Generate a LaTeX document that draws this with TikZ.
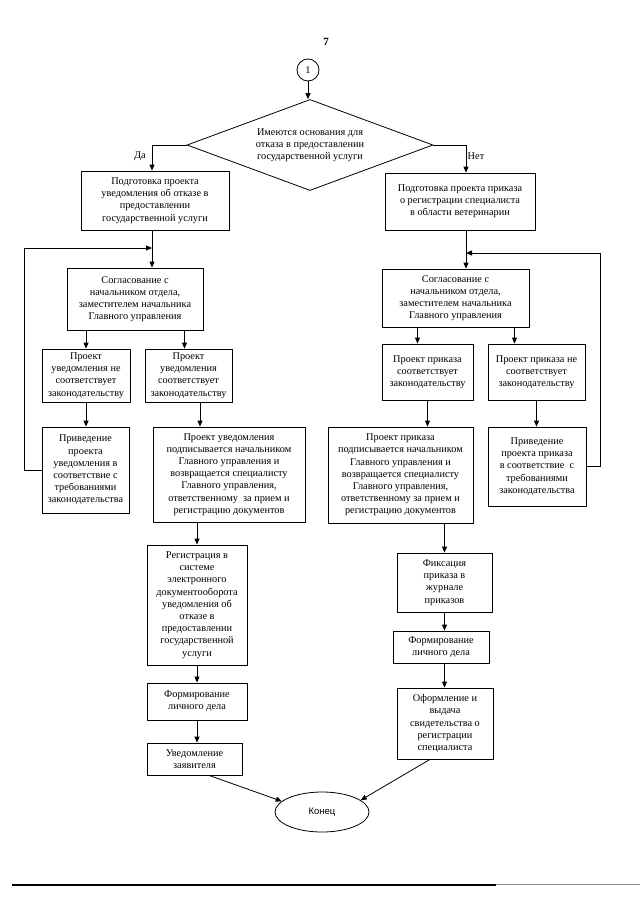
\documentclass[tikz,border=0pt]{standalone}
\usepackage{fontspec}
\setmainfont{Liberation Serif}
\newfontfamily\endfont{Liberation Sans}
\usetikzlibrary{arrows.meta,shapes.geometric,calc}
\newcommand\boxfont{\fontsize{10.3}{12.2}\selectfont}
\tikzset{
  box/.style={draw, line width=0.8pt, align=center, inner sep=1pt, font=\boxfont},
  arr/.style={-{Triangle[length=6pt,width=5pt]}, line width=0.8pt},
  lbl/.style={font=\boxfont, inner sep=0pt}
}
\begin{document}
\begin{tikzpicture}[x=1pt,y=-1pt]
\useasboundingbox (0,0) rectangle (640,905);
\fill[white] (0,0) rectangle (640,905);

\node[font=\fontsize{11}{12}\selectfont\bfseries] (pg) at (326,42) {7};
\node[draw, circle, line width=0.8pt, minimum size=22pt, inner sep=0pt, font=\boxfont] (c1) at (308,70) {1};

\node[draw, diamond, line width=0.8pt, minimum width=246pt, minimum height=91pt, inner sep=0pt, aspect=2.7, align=center, font=\boxfont] (d) at (310,145) {Имеются основания для\\отказа в предоставлении\\государственной услуги};

\node[box, minimum width=148pt, minimum height=59pt] (l1) at (155,200.5) {Подготовка проекта\\уведомления об отказе в\\предоставлении\\государственной услуги};
\node[box, minimum width=150pt, minimum height=57pt] (r1) at (460,201.5) {Подготовка проекта приказа\\о регистрации специалиста\\в области ветеринарии};

\node[box, minimum width=136pt, minimum height=62pt] (l2) at (135,299) {Согласование с\\начальником отдела,\\заместителем начальника\\Главного управления};
\node[box, minimum width=147pt, minimum height=58pt] (r2) at (455.5,298) {Согласование с\\начальником отдела,\\заместителем начальника\\Главного управления};

\node[box, minimum width=88pt, minimum height=53pt] (l3a) at (86,375.5) {Проект\\уведомления не\\соответствует\\законодательству};
\node[box, minimum width=87pt, minimum height=53pt] (l3b) at (188.5,375.5) {Проект\\уведомления\\соответствует\\законодательству};
\node[box, minimum width=91pt, minimum height=56pt] (r3a) at (427.5,372) {Проект приказа\\соответствует\\законодательству};
\node[box, minimum width=97pt, minimum height=56pt] (r3b) at (536.5,372) {Проект приказа не\\соответствует\\законодательству};

\node[box, minimum width=87pt, minimum height=86pt] (l4a) at (85.5,470) {Приведение\\проекта\\уведомления в\\соответствие с\\требованиями\\законодательства};
\node[box, minimum width=152pt, minimum height=95pt] (l4b) at (229,474.5) {Проект уведомления\\подписывается начальником\\Главного управления и\\возвращается специалисту\\Главного управления,\\ответственному\ \ за прием и\\регистрацию документов};
\node[box, minimum width=145pt, minimum height=96pt] (r4a) at (400.5,475) {Проект приказа\\подписывается начальником\\Главного управления и\\возвращается специалисту\\Главного управления,\\ответственному за прием и\\регистрацию документов};
\node[box, minimum width=98pt, minimum height=79pt] (r4b) at (537,466.5) {Приведение\\проекта приказа\\в соответствие\ \ с\\требованиями\\законодательства};

\node[box, minimum width=100pt, minimum height=120pt] (l5) at (197,605) {Регистрация в\\системе\\электронного\\документооборота\\уведомления об\\отказе в\\предоставлении\\государственной\\услуги};
\node[box, minimum width=100pt, minimum height=37pt] (l6) at (197,701.5) {Формирование\\личного дела};
\node[box, minimum width=95pt, minimum height=32pt] (l7) at (194.5,759) {Уведомление\\заявителя};

\node[box, minimum width=95pt, minimum height=59pt] (r5) at (444.5,582.5) {Фиксация\\приказа в\\журнале\\приказов};
\node[box, minimum width=96pt, minimum height=32pt] (r6) at (441,647) {Формирование\\личного дела};
\node[box, minimum width=96pt, minimum height=71pt] (r7) at (445,723.5) {Оформление и\\выдача\\свидетельства о\\регистрации\\специалиста};

\node[draw, ellipse, line width=0.8pt, minimum width=94pt, minimum height=40pt, inner sep=0pt, font=\endfont\fontsize{9.5}{11}\selectfont] (end) at (322,812) {Конец};

\node[lbl] (da) at (140,156) {Да};
\node[lbl] (net) at (476,156) {Нет};

% connectors
\draw[arr] (c1.south) -- (c1.south |- d.north);
\coordinate (pda) at (152,145);
\coordinate (pnet) at (466,145);
\draw[arr] (d.west) -- (pda) -- (pda |- l1.north);
\draw[arr] (d.east) -- (pnet) -- (pnet |- r1.north);

\coordinate (jl) at (152,248);
\coordinate (jr) at (466,253);
\draw[arr] (l1.south -| jl) -- (jl |- l2.north);
\draw[arr] (r1.south -| jr) -- (jr |- r2.north);
\draw[arr] (l4a.west) -- ++(-17,0) |- (jl);
\draw[arr] (r4b.east) -- ++(14,0) |- (jr);

\draw[arr] (l2.south -| l3a.north) -- (l3a.north);
\coordinate (b1) at ($(l3b.north)+(-4,0)$);
\draw[arr] (l2.south -| b1) -- (b1);
\coordinate (a1) at ($(r3a.north)+(-10,0)$);
\draw[arr] (a1 |- r2.south) -- (a1);
\coordinate (a2) at ($(r3b.north)+(-22,0)$);
\draw[arr] (a2 |- r2.south) -- (a2);

\draw[arr] (l3a.south) -- (l3a.south |- l4a.north);
\coordinate (a3) at ($(l4b.north)+(-29,0)$);
\draw[arr] (a3 |- l3b.south) -- (a3);
\draw[arr] (r3a.south) -- (r3a.south |- r4a.north);
\draw[arr] (r3b.south) -- (r3b.south |- r4b.north);

\draw[arr] (l5.north |- l4b.south) -- (l5.north);
\draw[arr] (l5.south) -- (l6.north);
\draw[arr] (l6.south) -- (l6.south |- l7.north);

\draw[arr] (r5.north |- r4a.south) -- (r5.north);
\draw[arr] (r5.south) -- (r5.south |- r6.north);
\draw[arr] (r5.south |- r6.south) -- (r5.south |- r7.north);

\draw[arr] ($(l7.south)+(14.5,0)$) -- (end.165);
\draw[arr] ($(r7.south)+(-15,0)$) -- (end.17);

% bottom rule
\draw[line width=1.4pt] (12,885) -- (496,885);
\draw[line width=0.8pt, black!45] (496,884.5) -- (640,884.5);
\end{tikzpicture}
\end{document}
